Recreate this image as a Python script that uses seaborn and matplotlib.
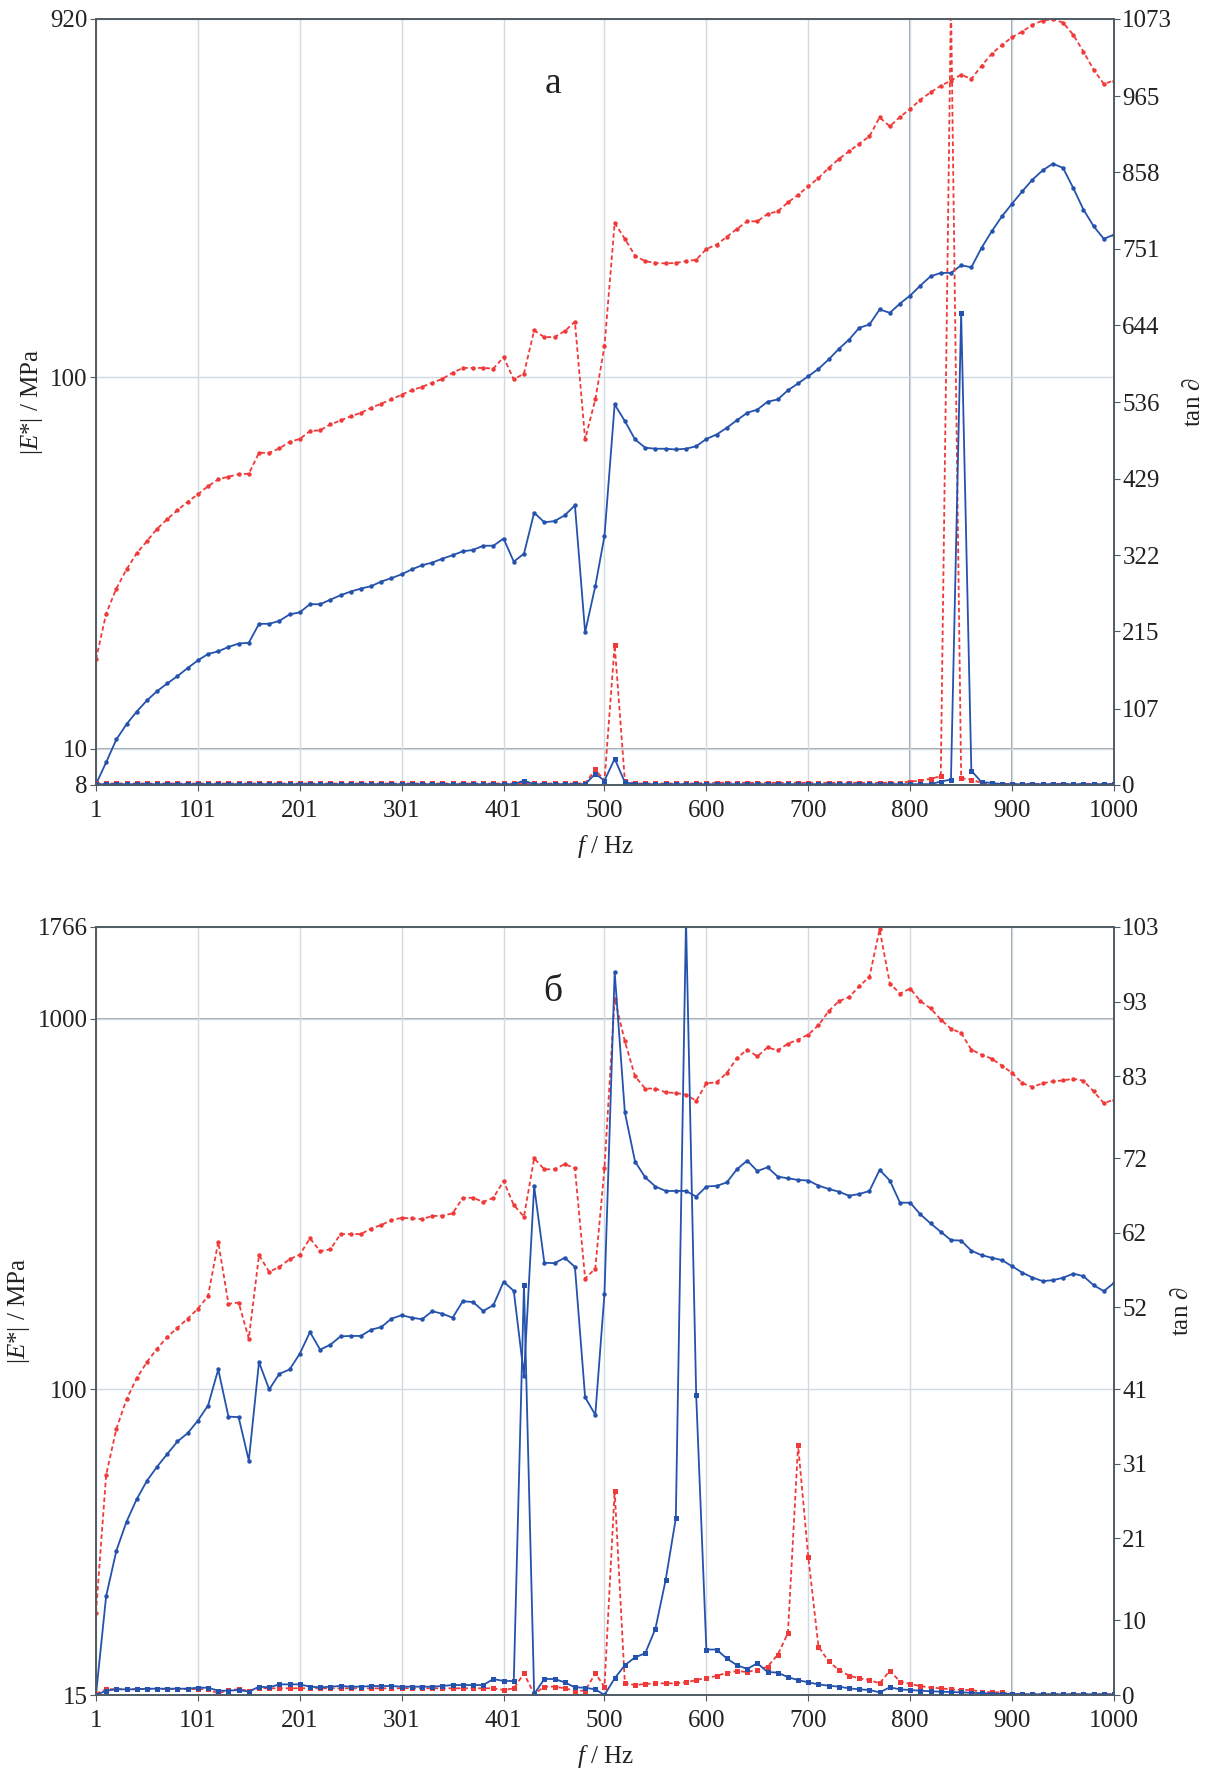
import numpy as np
import matplotlib
matplotlib.use("Agg")
import matplotlib.pyplot as plt
import seaborn as sns

# frequency sweep (Hz)
freq = list(range(1, 500, 10)) + list(range(500, 1001, 10))

# ---- panel a ----
a_E_red = [17.4, 23.1, 27.0, 30.4, 33.6, 36.2, 39.1, 41.5, 43.9, 46.2,
           48.4, 50.9, 53.1, 54.0, 54.8, 55.0, 62.6, 62.6, 64.3, 67.0,
           68.2, 71.6, 72.0, 74.6, 76.5, 78.5, 80.2, 82.7, 84.9, 87.1,
           89.8, 92.2, 94.2, 96.6, 99.0, 102.8, 105.9, 105.9, 105.9, 105.5,
           113.2, 98.6, 102.3, 133.7, 128.1, 128.3, 133.0, 141.0, 68.1, 87.1,
           121.2, 260, 235.6, 212.3, 205.1, 203.0, 202.3, 203.0, 205.1, 207.0,
           221.2, 227.3, 238.5, 250.6, 262.6, 262.6, 274.9, 279.3, 295.3, 309.5,
           326.2, 343.3, 365.5, 386.5, 405.2, 424.8, 444.5, 500.0, 473.0, 501.5,
           526.6, 557.9, 583.8, 608.1, 628.3, 651.2, 634.3, 688.2, 741.3, 783.4,
           821.6, 850.9, 886.9, 911.2, 918, 899.5, 833.7, 751.6, 671.5, 615.2,
           628.3]
a_E_blue = [8.03, 9.2, 10.6, 11.65, 12.6, 13.5, 14.3, 15.0, 15.7, 16.5,
            17.3, 18.0, 18.3, 18.8, 19.2, 19.3, 21.7, 21.7, 22.1, 23.0,
            23.3, 24.5, 24.5, 25.2, 25.9, 26.5, 27.0, 27.4, 28.2, 28.8,
            29.5, 30.4, 31.2, 31.7, 32.5, 33.2, 34.0, 34.3, 35.2, 35.2,
            36.8, 31.9, 33.5, 43.2, 40.7, 41.0, 42.5, 45.2, 20.6, 27.4,
            37.4, 84.5, 76.2, 68.0, 64.6, 64.2, 64.2, 63.9, 64.2, 65.2,
            68.2, 70.1, 73.1, 76.6, 80.2, 81.8, 85.9, 87.1, 92.2, 96.2,
            100.6, 105.3, 111.6, 119.2, 126.2, 135.8, 138.6, 152.1, 149.0, 157.8,
            165.8, 176.4, 186.8, 190.8, 190.8, 200.0, 197.6, 222.8, 246.8, 270.8,
            293.1, 316.3, 340, 360.2, 375.4, 365.5, 322.8, 282.5, 254.7, 235.6,
            241.9]
a_tan_red = [2.0] * 42 + [3.0] + [2.0] * 6 + [21.6,
             6.0, 196, 6.0, 2, 2, 2, 2, 2, 2, 2,
             3, 3, 3, 3, 3, 3, 3, 3, 3, 3,
             3, 3, 3, 3, 3, 3, 3, 3, 3, 3,
             4.7, 6.0, 8.5, 12.2, 1100, 9.4, 7.5, 2.8, 1.5, 1.5,
             1.5, 1.5, 1.5, 1.5, 1.5, 1.5, 1.5, 1.5, 1.5, 1.5,
             1.5]
a_tan_blue = [1.0] * 42 + [6.0] + [1.0] * 6 + [15.5,
              6.0, 36.6, 3.8, 1, 1, 1, 1, 1, 1, 1,
              1, 1, 1, 1, 1, 1, 1, 1, 1, 1,
              1, 1, 1, 1, 1, 1, 1, 1, 1, 1,
              1, 1, 1, 4.7, 7.5, 661, 20, 3.8, 2.8, 1,
              1, 1, 1, 1, 1, 1, 1, 1, 1, 1,
              1]

# ---- panel б ----
b_E_red = [25.0, 58.8, 78.3, 94.0, 107.3, 118.5, 128.8, 138.5, 146.7, 155.2,
           165.1, 178.6, 250, 170.2, 171.5, 137.1, 230.2, 207.5, 214.0, 224.4,
           231.0, 255.4, 236.1, 238.5, 262.3, 262.3, 262.3, 271.6, 277.5, 286.2,
           290.2, 289.1, 288.0, 293.5, 294.0, 298.3, 328.6, 328.6, 320.5, 328.6,
           364.8, 314.2, 292.4, 419.7, 392.3, 392.3, 405.1, 394.6, 199.1, 211.8,
           394.6, 1132, 868, 698.6, 647.5, 647.5, 632.5, 629.9, 623.3, 600,
           669.4, 672.8, 713.3, 782.6, 824.2, 790.6, 836.4, 820.2, 855.7, 877.3,
           905.4, 959.4, 1047, 1114, 1142, 1222, 1295.6, 1740, 1243, 1168,
           1205, 1114, 1065, 994, 939, 914, 824, 799, 779.6, 746.5,
           713.3, 669.4, 653.6, 669.4, 676.9, 681, 688.2, 679.7, 636.2, 591.5,
           604]
b_E_blue = [15.0, 27.7, 36.7, 44.0, 50.6, 56.7, 61.9, 67.0, 72.4, 76.2,
            82.4, 90.5, 113.2, 84.5, 84.2, 64.3, 118.5, 100, 110.2, 113.2,
            124.8, 142.8, 128, 132, 139, 139.4, 139.4, 144.9, 147.3, 155.2,
            158.5, 156.1, 154.6, 162.5, 160, 156.1, 173, 172, 162.8, 168.7,
            195.1, 184.4, 109, 353, 219.6, 219, 226.5, 214, 95.3, 85.4,
            181.4, 1336, 558.6, 411.6, 373, 352.5, 342.9, 342.9, 342.9, 331,
            352.5, 353.8, 361.5, 392.3, 414, 388, 397, 374.9, 370.8, 367.2,
            365.8, 354.4, 347.2, 341.3, 332.8, 336.4, 342.9, 390.8, 365.8, 318.8,
            318.8, 296.5, 280.3, 266.1, 252.7, 252, 236.6, 230.2, 226.5, 223.2,
            214.8, 206.5, 200.3, 195.9, 197.1, 200, 205.3, 202, 191, 184.1,
            193.8]
b_tan_red = [0.2, 0.76, 0.8, 0.8, 0.8, 0.8, 0.8, 0.8, 0.8, 0.8,
             0.8, 0.8, 0.2, 0.7, 0.75, 0.6, 0.9, 0.9, 0.9, 0.9,
             0.9, 0.9, 0.9, 0.9, 0.9, 0.9, 0.9, 0.9, 0.9, 0.9,
             0.9, 0.9, 0.9, 0.9, 0.9, 0.9, 0.9, 0.9, 0.9, 0.9,
             0.67, 0.9, 2.9, 0.13, 1.12, 1.12, 0.9, 0.58, 0.58, 2.9,
             1.12, 27.4, 1.57, 1.34, 1.48, 1.57, 1.57, 1.57, 1.7, 2.0,
             2.3, 2.55, 3.0, 3.2, 3.1, 3.35, 3.8, 5.4, 8.3, 33.5,
             18.5, 6.5, 4.5, 3.35, 2.6, 2.24, 2.0, 1.57, 3.26, 1.8,
             1.48, 1.2, 1.0, 0.9, 0.76, 0.67, 0.67, 0.45, 0.36, 0.36,
             0.13, 0.1, 0.1, 0.1, 0.1, 0.1, 0.1, 0.1, 0.1, 0.1,
             0.1]
b_tan_blue = [0.0, 0.58, 0.76, 0.76, 0.76, 0.85, 0.85, 0.85, 0.85, 0.85,
              0.98, 0.98, 0.58, 0.58, 0.67, 0.45, 1.12, 1.03, 1.43, 1.43,
              1.43, 1.12, 1.03, 1.12, 1.21, 1.12, 1.12, 1.21, 1.21, 1.21,
              1.12, 1.12, 1.12, 1.12, 1.21, 1.34, 1.34, 1.34, 1.34, 2.15,
              1.88, 1.88, 55, 0.13, 2.15, 2.15, 1.7, 1.03, 0.98, 0.76,
              0.0, 2.24, 4.0, 5.05, 5.6, 8.9, 15.4, 23.7, 104, 40.2,
              6.1, 6.1, 4.9, 4.0, 3.5, 4.25, 3.1, 3.0, 2.4, 2.0,
              1.7, 1.43, 1.25, 1.12, 0.9, 0.76, 0.67, 0.36, 1.03, 0.76,
              0.67, 0.58, 0.5, 0.45, 0.4, 0.36, 0.3, 0.25, 0.2, 0.18,
              0.15, 0.1, 0.1, 0.1, 0.1, 0.1, 0.1, 0.1, 0.1, 0.1,
              0.1]

x_ticks = [1, 101, 201, 301, 401, 500, 600, 700, 800, 900, 1000]

a_left_ticks = [8, 10, 100, 920]
a_right_ticks = [0, 107, 215, 322, 429, 536, 644, 751, 858, 965, 1073]
b_left_ticks = [15, 100, 1000, 1766]
b_right_ticks = [0, 10, 21, 31, 41, 52, 62, 72, 83, 93, 103]

sns.set_style("white")
plt.rcParams["font.family"] = ["Liberation Serif", "DejaVu Serif"]
plt.rcParams["mathtext.fontset"] = "custom"
plt.rcParams["mathtext.rm"] = "Liberation Serif"
plt.rcParams["mathtext.it"] = "Liberation Serif:italic"

RED = "#f03a3a"
BLUE = "#2452ad"
SPINE = "#4f5b63"
GRID_LIGHT = "#cfdae2"
GRID_DARK = "#8c949a"
TXT = "#222222"

fig = plt.figure(figsize=(12.13, 17.71), dpi=100)
ax_a = fig.add_axes([0.0791, 0.5568, 0.8393, 0.4325])
ax_b = fig.add_axes([0.0791, 0.0429, 0.8393, 0.4337])


def draw_panel(ax, E_red, E_blue, tan_red, tan_blue, lticks, rticks, letter, dark_x, dark_y):
    ax.set_yscale("log")
    sns.lineplot(x=freq, y=E_red, ax=ax, color=RED, linestyle=(0, (2.5, 1.6)),
                 linewidth=1.3, marker="o", markersize=3.2, markeredgewidth=0)
    sns.lineplot(x=freq, y=E_blue, ax=ax, color=BLUE, linewidth=1.3,
                 marker="o", markersize=3.2, markeredgewidth=0)
    ax.set_xlim(1, 1000)
    ax.set_ylim(lticks[0], lticks[-1])
    ax.set_xticks(x_ticks)
    ax.set_xticklabels([str(t) for t in x_ticks])
    ax.set_yticks(lticks)
    ax.set_yticklabels([str(t) for t in lticks])
    ax.yaxis.set_minor_locator(matplotlib.ticker.NullLocator())
    ax.grid(True, axis="both", color=GRID_LIGHT, linewidth=1.0)
    for xv in dark_x:
        ax.axvline(xv, color=GRID_DARK, linewidth=1.2, zorder=0.5)
    for yv in dark_y:
        ax.axhline(yv, color=GRID_DARK, linewidth=1.2, zorder=0.5)
    ax.set_axisbelow(True)

    ax2 = ax.twinx()
    sns.lineplot(x=freq, y=tan_red, ax=ax2, color=RED, linestyle=(0, (2.5, 1.6)),
                 linewidth=1.3, marker="s", markersize=3.6, markeredgewidth=0)
    sns.lineplot(x=freq, y=tan_blue, ax=ax2, color=BLUE, linewidth=1.3,
                 marker="s", markersize=3.6, markeredgewidth=0)
    ax2.set_ylim(rticks[0], rticks[-1])
    ax2.set_yticks(rticks)
    ax2.set_yticklabels([str(t) for t in rticks])
    ax2.grid(False)

    for a in (ax, ax2):
        for s in a.spines.values():
            s.set_color(SPINE)
            s.set_linewidth(1.2)
        a.tick_params(axis="both", which="major", direction="out", length=4,
                      width=0.8, color=SPINE, labelsize=18, labelcolor=TXT, pad=2)
    ax.tick_params(axis="x", bottom=True, pad=7)
    ax.tick_params(axis="y", left=True)
    ax2.tick_params(axis="y", right=True)

    ax.set_xlabel(r"$f$ / Hz", fontsize=18, labelpad=8, color=TXT)
    ax.set_ylabel(r"|$E$*| / MPa", fontsize=18, labelpad=4, color=TXT)
    ax2.set_ylabel(r"tan $\partial$", fontsize=18, labelpad=8, color=TXT)
    ax.text(0.449, 0.915, letter, transform=ax.transAxes, fontsize=27,
            ha="center", va="center", color=TXT)


draw_panel(ax_a, a_E_red, a_E_blue, a_tan_red, a_tan_blue,
           a_left_ticks, a_right_ticks, "a", [800, 900], [10])
draw_panel(ax_b, b_E_red, b_E_blue, b_tan_red, b_tan_blue,
           b_left_ticks, b_right_ticks, "б", [900], [1000])

fig.savefig("out.png", dpi=100)
